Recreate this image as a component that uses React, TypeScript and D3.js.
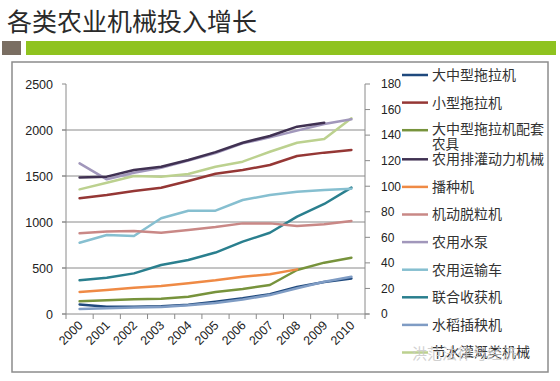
import React from 'react';
import * as d3 from 'd3';

const years = ['2000','2001','2002','2003','2004','2005','2006','2007','2008','2009','2010'];
const leftTicks = [0, 500, 1000, 1500, 2000, 2500];
const rightTicks = [0, 20, 40, 60, 80, 100, 120, 140, 160, 180];
const gridValues = [500, 1000, 1500, 2000];

const names = ['大中型拖拉机','小型拖拉机','大中型拖拉机配套农具','农用排灌动力机械','播种机','机动脱粒机','农用水泵','农用运输车','联合收获机','水稻插秧机','节水灌溉类机械'];
const colors = ['#1f497d','#953735','#77933c','#403152','#ef8a45','#c98886','#a197bb','#86bfd0','#2a7f8e','#7f9cc4','#bcd18f'];
const axisSide = ['L','L','L','L','L','L','L','L','R','R','L'];

const largeTractor = [103, 78, 78, 83, 100, 132, 170, 215, 293, 347, 386];
const smallTractor = [1257, 1293, 1337, 1373, 1446, 1525, 1565, 1620, 1717, 1754, 1783];
const implementsSet = [138, 149, 159, 167, 188, 238, 272, 315, 478, 558, 612];
const irrigationPower = [1485, 1493, 1565, 1601, 1674, 1760, 1862, 1935, 2036, 2080, null];
const seeder = [239, 261, 286, 304, 333, 366, 406, 431, 485, null, null];
const thresher = [877, 898, 902, 884, 913, 945, 985, 985, 956, 975, 1011];
const waterPump = [1638, 1464, 1536, 1590, 1667, 1750, 1855, 1920, 1993, 2065, 2116];
const transportVehicle = [775, 859, 848, 1040, 1123, 1123, 1239, 1293, 1330, 1348, 1362];
const combineHarvester = [26.4, 28.4, 31.8, 38.4, 42.3, 48.1, 56.6, 63.6, 76.2, 86.1, 98.9];
const riceTransplanter = [3.9, 4.5, 5.0, 5.5, 6.8, 8.6, 11.4, 14.8, 20.1, 25.3, 29.2];
const waterSaving = [1355, 1427, 1500, 1493, 1522, 1601, 1656, 1764, 1862, 1902, 2127];

const seriesData = [largeTractor, smallTractor, implementsSet, irrigationPower, seeder, thresher, waterPump, transportVehicle, combineHarvester, riceTransplanter, waterSaving];
const drawOrder = [0, 9, 2, 4, 8, 7, 5, 1, 10, 6, 3];

export default function App() {
  const W = 560, H = 381;
  const x0 = 66, x1 = 365, yTop = 84, yBot = 314;
  const x = d3.scalePoint<string>().domain(years).range([x0, x1]).padding(0.5);
  const step = x.step();
  const yL = d3.scaleLinear().domain([0, 2500]).range([yBot, yTop]);
  const yR = d3.scaleLinear().domain([0, 180]).range([yBot, yTop]);
  const numFont = '"Liberation Sans", Arial, sans-serif';
  const cjk = '"Noto Sans CJK SC", sans-serif';

  const lineFor = (vals: (number | null)[], side: string) => {
    const y = side === 'L' ? yL : yR;
    const gen = d3.line<number | null>()
      .defined(v => v !== null)
      .x((_, i) => x(years[i]) as number)
      .y(v => y(v as number));
    return gen(vals) || '';
  };

  const legendY0 = 75;
  const legendStep = 27.6;
  const legendRows = names.map((n, i) => ({ n, i, y: legendY0 + i * legendStep + (i >= 3 ? 1.5 : 0) }));

  return (
    <svg width={W} height={H} style={{ position: 'absolute', left: 0, top: 0, background: '#fff' }}>
      <text x={7} y={31} fontFamily={cjk} fontSize={25} fill="#2a2a2a">各类农业机械投入增长</text>
      <rect x={2} y={41} width={19} height={14} fill="#7a6e62" />
      <rect x={26} y={41} width={530} height={14} fill="#8fc31f" />
      <rect x={12} y={62} width={536} height={310} fill="none" stroke="#8c8c8c" strokeWidth={1.5} />

      {gridValues.map(v => (
        <line key={'g' + v} x1={x0 - 4} x2={x1} y1={yL(v)} y2={yL(v)} stroke="#8a8a8a" strokeWidth={1} />
      ))}

      {/* left axis */}
      <line x1={x0} x2={x0} y1={yTop} y2={yBot} stroke="#8a8a8a" strokeWidth={1} />
      {leftTicks.map(v => (
        <g key={'lt' + v}>
          <line x1={x0 - 4} x2={x0} y1={yL(v)} y2={yL(v)} stroke="#8a8a8a" />
          <text x={53} y={yL(v)} dy="0.36em" textAnchor="end" fontFamily={numFont} fontSize={12.5} fill="#222">{v}</text>
        </g>
      ))}

      {/* right axis */}
      <line x1={x1} x2={x1} y1={yTop} y2={yBot} stroke="#8a8a8a" strokeWidth={1} />
      {rightTicks.map(v => (
        <g key={'rt' + v}>
          <line x1={x1} x2={x1 + 5} y1={yR(v)} y2={yR(v)} stroke="#8a8a8a" />
          <text x={381} y={yR(v)} dy="0.36em" textAnchor="start" fontFamily={numFont} fontSize={12} fill="#222">{v}</text>
        </g>
      ))}

      {/* x axis */}
      <line x1={x0 - 4} x2={x1 + 4} y1={yBot} y2={yBot} stroke="#8a8a8a" strokeWidth={1} />
      {d3.range(years.length + 1).map(i => (
        <line key={'xt' + i} x1={x0 + i * step} x2={x0 + i * step} y1={yBot} y2={yBot + 5} stroke="#8a8a8a" />
      ))}
      {years.map(yr => (
        <text key={'xl' + yr} transform={`translate(${(x(yr) as number) + 4},${yBot + 12}) rotate(-45)`} textAnchor="end" fontFamily={numFont} fontSize={12.5} fill="#222">{yr}</text>
      ))}

      {/* series */}
      {drawOrder.map(i => (
        <path key={'s' + i} d={lineFor(seriesData[i], axisSide[i])} fill="none" stroke={colors[i]} strokeWidth={2.5} strokeLinejoin="round" strokeLinecap="round" />
      ))}

      {/* legend */}
      {legendRows.map(r => (
        <g key={'lg' + r.i}>
          <line x1={402} x2={428} y1={r.y} y2={r.y} stroke={colors[r.i]} strokeWidth={2.5} />
          {r.i === 2 ? (
            <g>
              <text x={432} y={r.y - 1.5} dy="0.35em" fontFamily={cjk} fontSize={14} fill="#333">大中型拖拉机配套</text>
              <text x={432} y={r.y + 14.5} dy="0.35em" fontFamily={cjk} fontSize={13.5} fill="#333">农具</text>
            </g>
          ) : (
            <text x={432} y={r.y} dy="0.35em" fontFamily={cjk} fontSize={14} fill="#333">{r.n}</text>
          )}
        </g>
      ))}

      {/* watermark */}
      <text x={412} y={359} fontFamily={cjk} fontSize={15} fill="#c8c8c8" opacity={0.85}>洪范法律与经济</text>
    </svg>
  );
}
